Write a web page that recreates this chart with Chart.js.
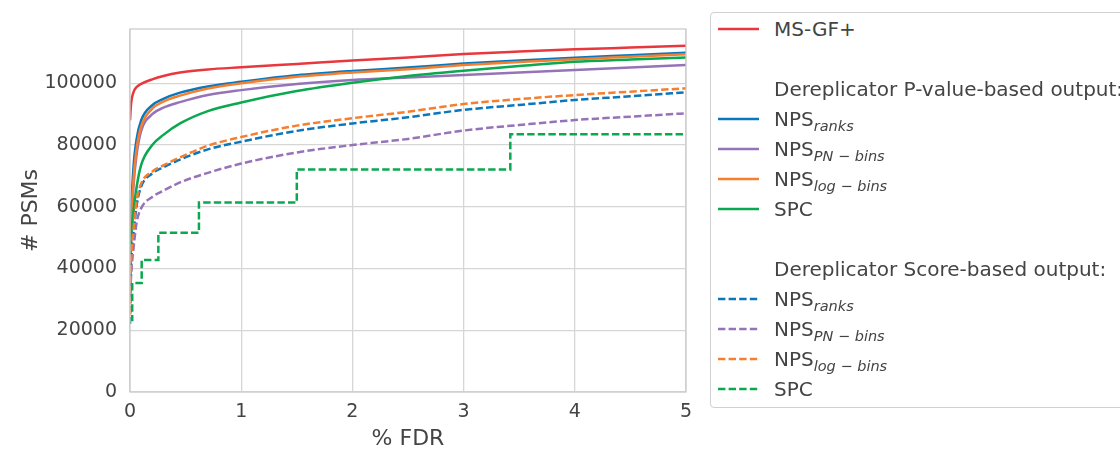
<!DOCTYPE html>
<html>
<head>
<meta charset="utf-8">
<script src="https://cdn.jsdelivr.net/npm/chart.js@4/dist/chart.umd.min.js"></script>
<style>
  body { margin: 0; background: #fff; overflow: hidden; font-family: "DejaVu Sans", sans-serif; color: #444; }
  #wrap { position: relative; width: 1120px; height: 450px; overflow: hidden; }
  #legend { position: absolute; left: 710px; top: 12px; width: 440px; height: 396px; border: 1.3px solid #d0d0d0;
            border-radius: 4px; padding-top: 1px; box-sizing: border-box; font-size: 20px; background: #fff; }
  .row { height: 30px; line-height: 30px; position: relative; white-space: nowrap; }
  .row svg { position: absolute; left: 6px; top: 13px; }
  .row .lbl { position: absolute; left: 63px; }
  .row sub { font-size: 14.5px; font-style: italic; vertical-align: -4.5px; line-height: 0; }
</style>
</head>
<body>
<div id="wrap">
  <canvas id="fdr-chart" width="1120" height="450"></canvas>
  <div id="legend"></div>
</div>
<script>
// FDR values (%) shared by the smooth curves
const fdr = [0, 0.01, 0.03, 0.06, 0.1, 0.2, 0.3, 0.45, 0.7, 1, 1.5, 2, 2.5, 3, 3.5, 4, 4.5, 5];

// # PSMs
const msgf      = [88000, 93500, 97000, 98800, 99800, 101300, 102400, 103500, 104500, 105200, 106300, 107400, 108400, 109500, 110300, 111000, 111600, 112200];
const pvRanks   = [30000, 55000, 72000, 82000, 88000, 92900, 95000, 97000, 99000, 100500, 102600, 104000, 105100, 106400, 107400, 108300, 109100, 109900];
const pvPnBins  = [40000, 50000, 66000, 77000, 84500, 90000, 92100, 93900, 96200, 97800, 99800, 101100, 101900, 102700, 103500, 104300, 105100, 105900];
const pvLogBins = [38000, 52000, 68000, 79000, 86000, 91800, 94100, 96000, 98300, 100000, 102100, 103500, 104600, 105900, 106900, 107800, 108600, 109400];
const pvSpc     = [42000, 50000, 58000, 66500, 73500, 80000, 83300, 87000, 91000, 93800, 97500, 100200, 102400, 104100, 105600, 107000, 107700, 108400];
const scRanks   = [22000, 40000, 50500, 60500, 66500, 70800, 72800, 75300, 78600, 81100, 84600, 87000, 89000, 91400, 93000, 94600, 95800, 97100];
const scPnBins  = [32000, 38500, 46000, 55000, 59500, 63200, 65200, 67900, 71000, 74000, 77600, 80000, 82000, 84700, 86500, 88100, 89200, 90300];
const scLogBins = [25000, 42000, 52000, 62000, 67500, 71400, 73400, 76000, 79800, 82600, 86300, 88700, 90800, 93300, 94900, 96200, 97300, 98400];

// score-based SPC is a step curve
const scSpcFdr = [0, 0.02, 0.105, 0.255, 0.62, 1.5, 3.42, 5];
const scSpc    = [23300, 35300, 42800, 51600, 61400, 72100, 83500, 83500];

const xTickValues = [0, 1, 2, 3, 4, 5];
const yTickValues = [0, 20000, 40000, 60000, 80000, 100000];

const RED = '#e8383d', BLUE = '#0a77bd', PURPLE = '#9673b9', ORANGE = '#f57f2f', GREEN = '#0aa84f';
const DASH = [7.4, 3.2];

function pts(xs, ys) {
  return xs.map((x, i) => ({ x: x, y: ys[i] }));
}

const series = [
  { name: 'MS-GF+', sub: '', color: RED, dash: [], data: pts(fdr, msgf) },
  { name: 'NPS', sub: 'ranks', color: BLUE, dash: [], data: pts(fdr, pvRanks) },
  { name: 'NPS', sub: 'PN \u2212 bins', color: PURPLE, dash: [], data: pts(fdr, pvPnBins) },
  { name: 'NPS', sub: 'log \u2212 bins', color: ORANGE, dash: [], data: pts(fdr, pvLogBins) },
  { name: 'SPC', sub: '', color: GREEN, dash: [], data: pts(fdr, pvSpc) },
  { name: 'NPS', sub: 'ranks', color: BLUE, dash: DASH, data: pts(fdr, scRanks) },
  { name: 'NPS', sub: 'PN \u2212 bins', color: PURPLE, dash: DASH, data: pts(fdr, scPnBins) },
  { name: 'NPS', sub: 'log \u2212 bins', color: ORANGE, dash: DASH, data: pts(fdr, scLogBins) },
  { name: 'SPC', sub: '', color: GREEN, dash: DASH, data: pts(scSpcFdr, scSpc), stepped: true }
];

// legend rows: null = blank line, string = header
const legendRows = [0, null, 'Dereplicator P-value-based output:', 1, 2, 3, 4, null,
                    'Dereplicator Score-based output:', 5, 6, 7, 8];

const legend = document.getElementById('legend');
legendRows.forEach(r => {
  const row = document.createElement('div');
  row.className = 'row';
  if (typeof r === 'number') {
    const s = series[r];
    const dash = s.dash.length ? ' stroke-dasharray="' + s.dash.join(',') + '"' : '';
    row.innerHTML = '<svg width="44" height="4"><line x1="1" y1="2" x2="42" y2="2" stroke="' + s.color +
      '" stroke-width="2.5"' + dash + '/></svg><span class="lbl">' + s.name +
      (s.sub ? '<sub>' + s.sub + '</sub>' : '') + '</span>';
  } else if (typeof r === 'string') {
    row.innerHTML = '<span class="lbl">' + r + '</span>';
  }
  legend.appendChild(row);
});

const frame = {
  id: 'frame',
  afterDatasetsDraw(chart) {
    const { ctx, chartArea: a } = chart;
    ctx.save();
    ctx.strokeStyle = '#cccccc';
    ctx.lineWidth = 1.3;
    ctx.strokeRect(a.left, a.top, a.right - a.left, a.bottom - a.top);
    ctx.restore();
  }
};

Chart.defaults.font.family = '"DejaVu Sans", sans-serif';
Chart.defaults.color = '#444';

new Chart(document.getElementById('fdr-chart'), {
  type: 'line',
  data: {
    datasets: series.map((s, i) => ({
      label: s.name + (s.sub ? ' ' + s.sub : ''),
      data: s.data,
      borderColor: s.color,
      backgroundColor: s.color,
      borderWidth: 2.5,
      borderDash: s.dash,
      pointRadius: 0,
      fill: false,
      stepped: s.stepped ? 'before' : false,
      cubicInterpolationMode: 'monotone',
      order: series.length - i
    }))
  },
  options: {
    responsive: false,
    animation: false,
    devicePixelRatio: 1,
    layout: { padding: { top: 29, right: 434, bottom: 0, left: 0 } },
    plugins: { legend: { display: false }, tooltip: { enabled: false } },
    scales: {
      x: {
        type: 'linear',
        min: 0,
        max: 5,
        afterBuildTicks: s => { s.ticks = xTickValues.map(v => ({ value: v })); },
        afterFit: s => { s.height = 58; },
        grid: { color: '#d6d6d6', lineWidth: 1.3, drawTicks: false },
        border: { display: false },
        ticks: { padding: 9, font: { size: 19 }, color: '#444' },
        title: { display: true, text: '% FDR', font: { size: 22, lineHeight: 1 }, padding: { top: 0, bottom: 0 }, color: '#444' }
      },
      y: {
        min: 0,
        max: 117600,
        afterBuildTicks: s => { s.ticks = yTickValues.map(v => ({ value: v })); },
        afterFit: s => { s.width = 130; },
        grid: { color: '#d6d6d6', lineWidth: 1.3, drawTicks: false },
        border: { display: false },
        ticks: { padding: 13, font: { size: 19 }, color: '#444', callback: v => String(v) },
        title: { display: true, text: '# PSMs', font: { size: 22, lineHeight: 1 }, padding: { top: 20, bottom: 0 }, color: '#444' }
      }
    }
  },
  plugins: [frame]
});
</script>
</body>
</html>
